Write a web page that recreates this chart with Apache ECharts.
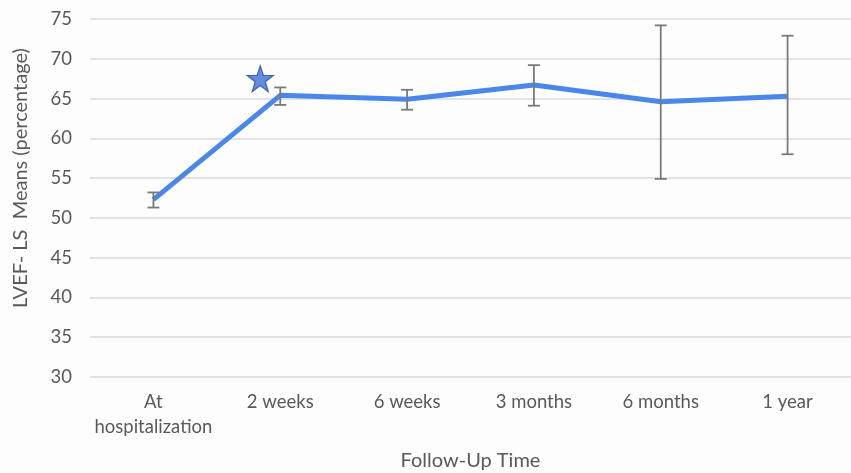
<!DOCTYPE html>
<html>
<head>
<meta charset="utf-8">
<script src="https://cdn.jsdelivr.net/npm/echarts@6/dist/echarts.min.js"></script>
<style>
  html, body { margin: 0; padding: 0; background: #fdfdfd; }
  #chart { width: 851px; height: 473px; }
</style>
</head>
<body>
<div id="chart"></div>
<script>
// Follow-up time points
const categories = ['At\nhospitalization', '2 weeks', '6 weeks', '3 months', '6 months', '1 year'];
// LVEF least-squares means (%)
const lsMeans = [52.3, 65.4, 64.9, 66.7, 64.6, 65.3];
// Error bar bounds (lower, upper)
const errLow = [51.3, 64.2, 63.6, 64.1, 54.9, 58.0];
const errHigh = [53.2, 66.4, 66.1, 69.2, 74.2, 72.9];
// Significance marker: category and height
const starCategory = '2 weeks';
const starValue = 67.5;
// Y axis ticks
const yMin = 30, yMax = 75, yStep = 5;

const textColor = '#595959';
const font = 'Lato, "Open Sans", sans-serif';
const starPath = 'path://M50,0 L61.8,35.1 L99,35.1 L68.8,57.2 L80.3,92.7 L50,70.7 L19.7,92.7 L31.2,57.2 L1,35.1 L38.2,35.1 Z';

const chart = echarts.init(document.getElementById('chart'), null, { renderer: 'canvas' });
chart.setOption({
  backgroundColor: '#fdfdfd',
  animation: false,
  grid: { left: 90, right: 0, top: 19, bottom: 96, containLabel: false, outerBoundsMode: 'none' },
  xAxis: {
    type: 'category',
    data: categories,
    boundaryGap: true,
    name: 'Follow-Up Time',
    nameLocation: 'middle',
    nameGap: 74,
    nameTextStyle: { color: textColor, fontSize: 20, fontFamily: font },
    axisLine: { show: false },
    axisTick: { show: false },
    axisLabel: { color: textColor, fontSize: 18.5, fontFamily: font, margin: 13, lineHeight: 25, interval: 0 }
  },
  yAxis: {
    type: 'value',
    min: yMin, max: yMax, interval: yStep,
    name: 'LVEF- LS  Means (percentage)',
    nameLocation: 'middle',
    nameGap: 59,
    nameRotate: 90,
    nameTextStyle: { color: textColor, fontSize: 20, fontFamily: font, padding: [0, 0, 0, 40] },
    axisLine: { show: false },
    axisTick: { show: false },
    axisLabel: { color: textColor, fontSize: 18.5, fontFamily: font, margin: 18 },
    splitLine: { lineStyle: { color: '#d9d9d9', width: 1.5 } }
  },
  series: [
    {
      type: 'line',
      data: lsMeans,
      symbol: 'none',
      lineStyle: { color: '#4a87ea', width: 5 },
      z: 2
    },
    {
      type: 'custom',
      z: 3,
      data: categories.map((c, i) => [i, errLow[i], errHigh[i]]),
      renderItem: function (params, api) {
        const i = api.value(0);
        const lo = api.coord([i, api.value(1)]);
        const hi = api.coord([i, api.value(2)]);
        const cap = 6;
        const style = { stroke: '#7a7a7a', lineWidth: 1.8 };
        return {
          type: 'group',
          children: [
            { type: 'line', shape: { x1: lo[0], y1: lo[1], x2: hi[0], y2: hi[1] }, style },
            { type: 'line', shape: { x1: hi[0] - cap, y1: hi[1], x2: hi[0] + cap, y2: hi[1] }, style },
            { type: 'line', shape: { x1: lo[0] - cap, y1: lo[1], x2: lo[0] + cap, y2: lo[1] }, style }
          ]
        };
      }
    },
    {
      type: 'scatter',
      data: [[starCategory, starValue]],
      symbol: starPath,
      symbolSize: 26,
      symbolOffset: [-20, 0],
      itemStyle: { color: '#3a72d9', borderColor: '#1f4a9a', borderWidth: 1.2 },
      z: 4
    }
  ]
});
</script>
</body>
</html>
